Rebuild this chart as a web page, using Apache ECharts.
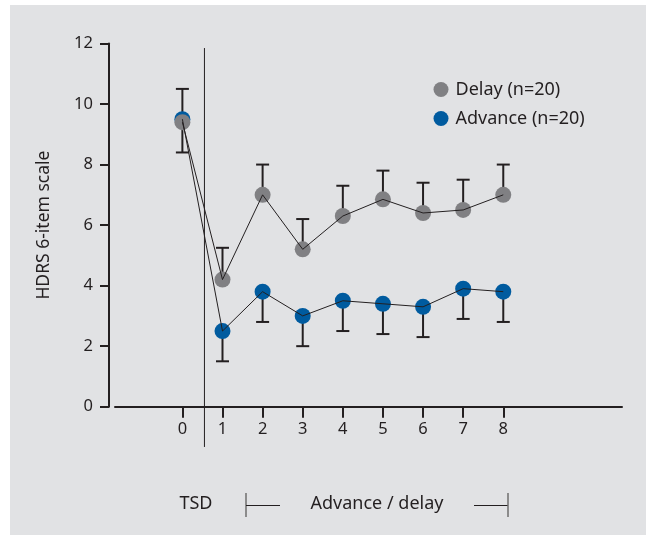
<!DOCTYPE html>
<html>
<head>
<meta charset="utf-8">
<script src="https://cdn.jsdelivr.net/npm/echarts@6/dist/echarts.min.js"></script>
<style>
html,body{margin:0;padding:0;background:#fff;}
#bg{position:absolute;left:10px;top:5px;width:636px;height:530px;background:#e1e2e4;}
#chart{position:absolute;left:0;top:0;width:646px;height:535px;}
</style>
</head>
<body>
<div id="bg"></div>
<div id="chart"></div>
<script>
// Data
const timepoints = [0, 1, 2, 3, 4, 5, 6, 7, 8];
const delayMean = [9.4, 4.2, 7.0, 5.2, 6.3, 6.85, 6.4, 6.5, 7.0];
const delayUpper = [10.5, 5.25, 8.0, 6.2, 7.3, 7.8, 7.4, 7.5, 8.0];
const advanceMean = [9.5, 2.5, 3.8, 3.0, 3.5, 3.4, 3.3, 3.9, 3.8];
const advanceLower = [8.4, 1.5, 2.8, 2.0, 2.5, 2.4, 2.3, 2.9, 2.8];
const yTicks = [0, 2, 4, 6, 8, 10, 12];
const seriesNames = ['Delay (n=20)', 'Advance (n=20)'];
const tsdBoundary = 0.55;

const ink = '#231f20';
const grayC = '#808083';
const blueC = '#005b9f';
const font = 'Noto Sans';

const chart = echarts.init(document.getElementById('chart'), null, {renderer: 'canvas'});

function errSeries(means, ends) {
  return {
    type: 'custom',
    z: 1,
    silent: true,
    data: timepoints.map((t, i) => [t, means[i], ends[i]]),
    renderItem: function (params, api) {
      const p0 = api.coord([api.value(0), api.value(1)]);
      const p1 = api.coord([api.value(0), api.value(2)]);
      const hw = 6.5;
      return {
        type: 'group',
        children: [
          {type: 'line', shape: {x1: p0[0], y1: p0[1], x2: p1[0], y2: p1[1]}, style: {stroke: ink, lineWidth: 2}},
          {type: 'line', shape: {x1: p1[0] - hw, y1: p1[1], x2: p1[0] + hw, y2: p1[1]}, style: {stroke: ink, lineWidth: 2}}
        ]
      };
    }
  };
}

const option = {
  animation: false,
  backgroundColor: 'transparent',
  grid: {left: 115, right: 24, top: 43.5, bottom: 128.3},
  legend: {
    orient: 'vertical',
    left: 428.5,
    top: 75.5,
    itemWidth: 15,
    itemHeight: 15,
    itemGap: 11,
    icon: 'circle',
    textStyle: {fontFamily: font, fontSize: 18, color: ink, padding: [0, 0, 0, 2]},
    data: [
      {name: seriesNames[0], itemStyle: {color: grayC}},
      {name: seriesNames[1], itemStyle: {color: blueC}}
    ]
  },
  xAxis: {
    type: 'value',
    min: -1.68,
    max: 10.96,
    splitLine: {show: false},
    axisLine: {show: true, onZero: false, lineStyle: {color: ink, width: 2}},
    axisTick: {show: true, length: 11, customValues: timepoints, lineStyle: {color: ink, width: 2}},
    axisLabel: {customValues: timepoints, margin: 14, fontFamily: font, fontSize: 16.5, color: ink}
  },
  yAxis: {
    type: 'value',
    min: 0,
    max: 12,
    interval: 2,
    offset: 6,
    name: 'HDRS 6-item scale',
    nameLocation: 'middle',
    nameGap: 56,
    nameTextStyle: {fontFamily: font, fontSize: 17.5, color: ink},
    splitLine: {show: false},
    axisLine: {show: true, onZero: false, lineStyle: {color: ink, width: 2}},
    axisTick: {show: true, length: 9, lineStyle: {color: ink, width: 2}},
    axisLabel: {margin: 16, fontFamily: font, fontSize: 16.5, color: ink}
  },
  series: [
    {
      type: 'line', z: 1, silent: true, clip: false, showSymbol: false,
      lineStyle: {color: ink, width: 1},
      data: [[tsdBoundary, 11.85], [tsdBoundary, -1.33]]
    },
    errSeries(delayMean, delayUpper),
    errSeries(advanceMean, advanceLower),
    {
      name: seriesNames[1], type: 'scatter', z: 3, symbolSize: 16,
      itemStyle: {color: blueC, opacity: 1},
      data: timepoints.map((t, i) => [t, advanceMean[i]])
    },
    {
      name: seriesNames[0], type: 'scatter', z: 4, symbolSize: 16,
      itemStyle: {color: grayC, opacity: 1},
      data: timepoints.map((t, i) => [t, delayMean[i]])
    },
    {
      type: 'line', z: 5, silent: true, showSymbol: false,
      lineStyle: {color: ink, width: 1},
      data: timepoints.map((t, i) => [t, delayMean[i]])
    },
    {
      type: 'line', z: 5, silent: true, showSymbol: false,
      lineStyle: {color: ink, width: 1},
      data: timepoints.map((t, i) => [t, advanceMean[i]])
    }
  ],
  graphic: [
    {type: 'text', x: 196, y: 504, style: {text: 'TSD', font: '18px "Noto Sans"', fill: ink, align: 'center', verticalAlign: 'middle'}},
    {type: 'text', x: 377, y: 504, style: {text: 'Advance / delay', font: '18px "Noto Sans"', fill: ink, align: 'center', verticalAlign: 'middle'}},
    {type: 'line', shape: {x1: 246, y1: 493, x2: 246, y2: 517}, style: {stroke: '#6e6e6e', lineWidth: 1.5}},
    {type: 'line', shape: {x1: 246, y1: 505.5, x2: 280, y2: 505.5}, style: {stroke: ink, lineWidth: 1}},
    {type: 'line', shape: {x1: 474, y1: 505.5, x2: 508, y2: 505.5}, style: {stroke: ink, lineWidth: 1}},
    {type: 'line', shape: {x1: 508, y1: 493, x2: 508, y2: 517}, style: {stroke: '#6e6e6e', lineWidth: 1.5}}
  ]
};
chart.setOption(option);
</script>
</body>
</html>
